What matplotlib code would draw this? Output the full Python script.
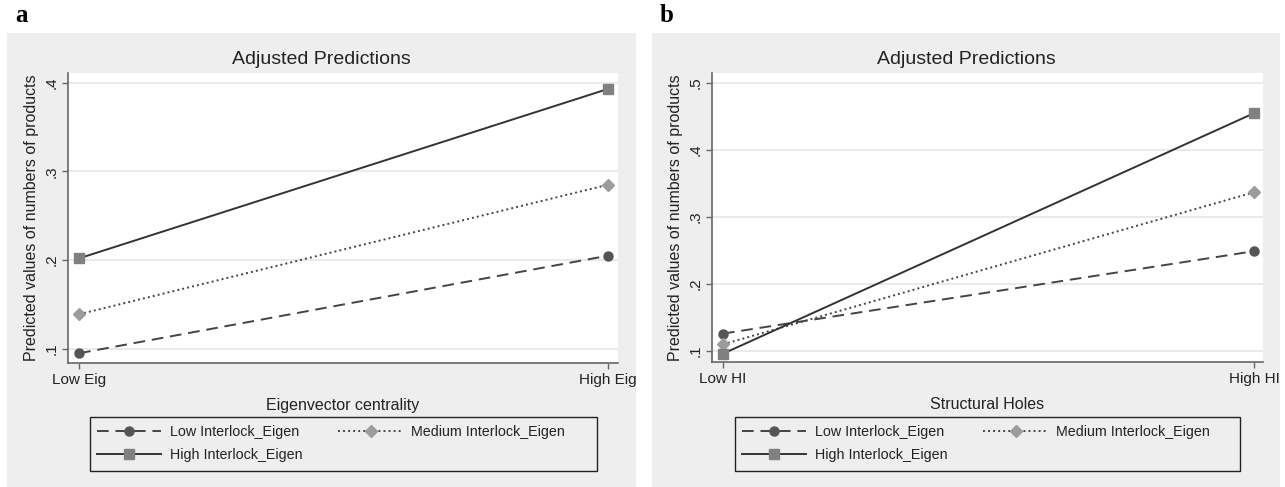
import matplotlib
matplotlib.use("Agg")
import matplotlib.pyplot as plt
from matplotlib.patches import Rectangle
from matplotlib.lines import Line2D
from matplotlib.transforms import Bbox, TransformedBbox

# ---------------- data ----------------
x_pos = [0, 1]
xlabels_a = ["Low Eig", "High Eig"]
xlabels_b = ["Low HI", "High HI"]
series_names = ["Low Interlock_Eigen", "Medium Interlock_Eigen", "High Interlock_Eigen"]

a_low = [0.095, 0.205]
a_med = [0.139, 0.285]
a_high = [0.202, 0.393]

b_low = [0.126, 0.249]
b_med = [0.110, 0.337]
b_high = [0.096, 0.455]

a_yticks = [0.1, 0.2, 0.3, 0.4]
a_yticklabels = [".1", ".2", ".3", ".4"]
b_yticks = [0.1, 0.2, 0.3, 0.4, 0.5]
b_yticklabels = [".1", ".2", ".3", ".4", ".5"]

W, H = 1285, 487
plt.rcParams['font.family'] = ['Liberation Sans', 'DejaVu Sans']
fig = plt.figure(figsize=(W / 100, H / 100), dpi=100)
fig.patch.set_facecolor("white")

BG = "#eeeeee"

def fx(px):
    return px / W

def fy(py):
    return 1 - py / H

def rect(l, t, r, b):
    return [fx(l), fy(b), fx(r - l), (b - t) / H]

styles = [
    dict(ls=(0, (6, 3.5)), marker="o", mfc="#555555", mec="#555555", ms=6.5, color="#444444"),
    dict(ls=(0, (1, 1.6)), marker="D", mfc="#9c9c9c", mec="#9c9c9c", ms=6, color="#444444"),
    dict(ls="-", marker="s", mfc="#808080", mec="#808080", ms=6.5, color="#333333"),
]

def panel(letter, bg_box, plot_box, data, xlabels, xtitle, yticks, yticklabels, ylim, xlim, leg_box):
    l, t, r, b = bg_box
    fig.patches.append(Rectangle((fx(l), fy(b)), fx(r - l), (b - t) / H,
                                 transform=fig.transFigure, facecolor=BG, edgecolor="none", zorder=0))
    fig.text(fx(l + 8), fy(16), letter, fontsize=18, fontweight="bold",
             family="Liberation Serif", ha="left", va="center")
    ax = fig.add_axes(rect(*plot_box))
    ax.set_facecolor("white")
    ax.set_zorder(1)
    for i, ys in enumerate(data):
        st = styles[i]
        ax.plot(x_pos, ys, linestyle=st["ls"], color=st["color"], lw=1.4,
                marker=st["marker"], mfc=st["mfc"], mec=st["mec"], ms=st["ms"], zorder=3)
    ax.set_ylim(*ylim)
    ax.set_xlim(*xlim)
    ax.set_yticks(yticks)
    ax.set_yticklabels(yticklabels, rotation=90, va="center", fontsize=11)
    ax.set_xticks(x_pos)
    ax.set_xticklabels(xlabels, fontsize=11)
    clipbb = TransformedBbox(Bbox([[fx(l), fy(b)], [fx(r), fy(t)]]), fig.transFigure)
    for lbl in ax.get_xticklabels():
        lbl.set_clip_on(True)
        lbl.set_clip_box(clipbb)
    for yv in yticks:
        ax.axhline(yv, color="#e6e6e6", lw=1.2, zorder=1)
    for s in ["top", "right"]:
        ax.spines[s].set_visible(False)
    for s in ["left", "bottom"]:
        ax.spines[s].set_color("#666666")
        ax.spines[s].set_linewidth(1.2)
    ax.tick_params(axis="both", direction="out", length=4, width=1, color="#666666",
                   labelcolor="#222222", pad=3)
    ax.set_ylabel("Predicted values of numbers of products", fontsize=11.5, labelpad=4, color="#222222")
    ax.set_xlabel(xtitle, fontsize=11.5, labelpad=8, color="#222222")
    fig.text(fx((l + r) / 2), fy(60), "Adjusted Predictions", fontsize=14,
             ha="center", va="center", color="#222222")
    # legend frame
    ll, lt, lr, lb = leg_box
    fig.patches.append(Rectangle((fx(ll), fy(lb)), fx(lr - ll), (lb - lt) / H,
                                 transform=fig.transFigure, facecolor=BG, edgecolor="#222222",
                                 lw=1.0, zorder=1))
    handles = []
    for i in range(3):
        st = styles[i]
        handles.append(Line2D([], [], linestyle=st["ls"], color=st["color"], lw=1.4,
                              marker=st["marker"], mfc=st["mfc"], mec=st["mec"], ms=st["ms"]))
    order = [0, 2, 1]
    leg = fig.legend([handles[k] for k in order], [series_names[k] for k in order],
                     ncol=2, loc="upper left",
                     bbox_to_anchor=(fx(ll + 7), fy(lt + 8)),
                     bbox_transform=fig.transFigure,
                     frameon=False, fontsize=10.3, handlelength=4.5, handletextpad=0.6,
                     borderaxespad=0, borderpad=0, labelspacing=0.6, columnspacing=2.5)
    for tx in leg.get_texts():
        tx.set_color("#222222")
    return ax

panel("a", (7, 33, 636, 487), (68, 73, 618, 363),
      [a_low, a_med, a_high], xlabels_a, "Eigenvector centrality",
      a_yticks, a_yticklabels, (0.084, 0.411), (-0.021, 1.019), (90, 417, 597, 471))

panel("b", (652, 33, 1280, 487), (712, 73, 1263, 362),
      [b_low, b_med, b_high], xlabels_b, "Structural Holes",
      b_yticks, b_yticklabels, (0.0836, 0.515), (-0.0207, 1.017), (735, 417, 1240, 471))

fig.savefig("out.png", dpi=100, facecolor=fig.get_facecolor())
